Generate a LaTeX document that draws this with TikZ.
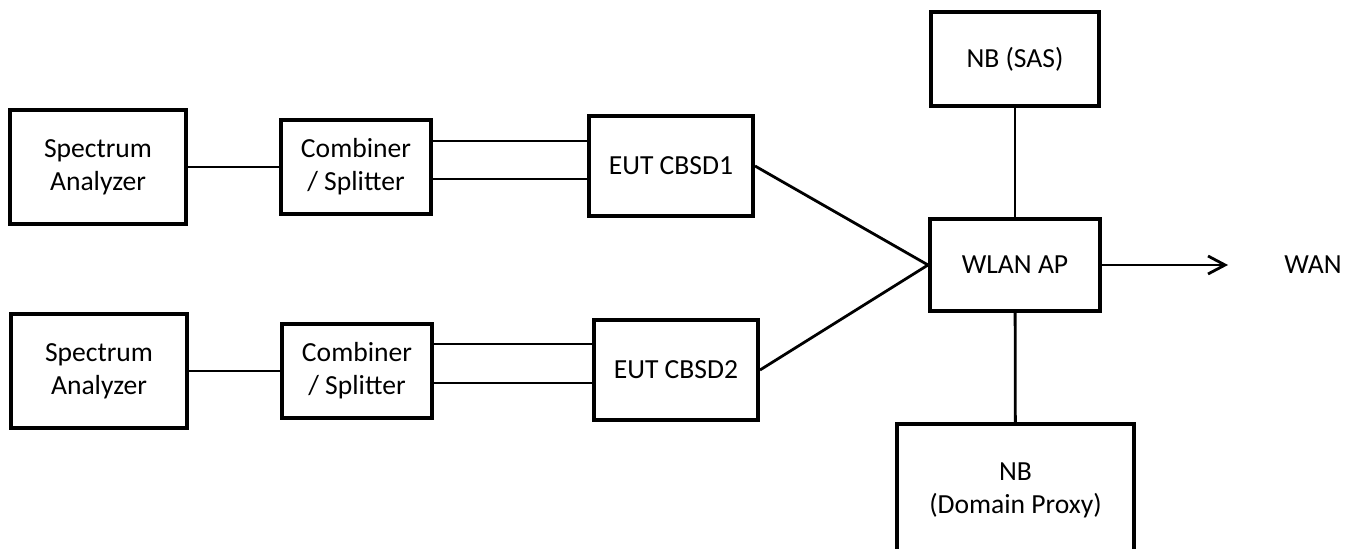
\documentclass[tikz,border=0pt]{standalone}
\usepackage{fontspec}
\setmainfont{Carlito}
\usetikzlibrary{positioning}
\usetikzlibrary{arrows.meta}
\tikzset{
	>={Straight Barb[length=8.5pt,width=9pt]},
	block/.style={
		rectangle,
		draw=black, line width=2pt,
		inner sep=0pt,
		align=center,
		font=\fontsize{13.8}{16.5}\selectfont},
	line/.style={draw, line width=1.4pt},
}
\begin{document}
\begin{tikzpicture}
			[x=0.5pt, y=-0.5pt]
			\useasboundingbox (0,0) rectangle (1359,549);
			% analyzers and combiners
			\node[block, minimum width=88pt, minimum height=57pt] (sa1) at (98,167) {Spectrum\\Analyzer};
			\node[block, minimum width=88pt, minimum height=57pt] (sa2) at (99,371) {Spectrum\\Analyzer};
			\node[block, minimum width=75pt, minimum height=47pt] (comb1) at (356,167) {Combiner\\/ Splitter};
			\node[block, minimum width=75pt, minimum height=47pt] (comb2) at (357,371) {Combiner\\/ Splitter};
			% devices under test
			\node[block, minimum width=82pt, minimum height=50pt] (eut1) at (671,166) {EUT CBSD1};
			\node[block, minimum width=82pt, minimum height=50pt] (eut2) at (676,370) {EUT CBSD2};
			% access point and neighbours
			\node[block, minimum width=85pt, minimum height=46pt] (wlan) at (1015,265) {WLAN AP};
			\node[block, minimum width=84pt, minimum height=47pt] (sas) at (1015,59) {NB (SAS)};
			\node[block, minimum width=118.5pt, minimum height=66pt] (dp) at (1015.5,490) {NB\\(Domain Proxy)};
			\node[font=\fontsize{13.8}{16.5}\selectfont, inner sep=0pt] (wan) at (1313,265) {WAN};
			\coordinate (wanend) at (1228,265);

			\draw[line] (sa1) -- (comb1);
			\draw[line] (sa2) -- (comb2);
			\draw[line] (comb1.east |- 0,141) -- (eut1.west |- 0,141);
			\draw[line] (comb1.east |- 0,179) -- (eut1.west |- 0,179);
			\draw[line] (comb2.east |- 0,344) -- (eut2.west |- 0,344);
			\draw[line] (comb2.east |- 0,383) -- (eut2.west |- 0,383);
			\draw[line] (eut1.east) -- (wlan.west);
			\draw[line] (eut2.east) -- (wlan.west);
			\draw[line] (wlan) -- (sas);
			\draw[line] (wlan) -- (dp);
			\draw[line, ->] (wlan.east) -- (wanend);
\end{tikzpicture}
\end{document}
